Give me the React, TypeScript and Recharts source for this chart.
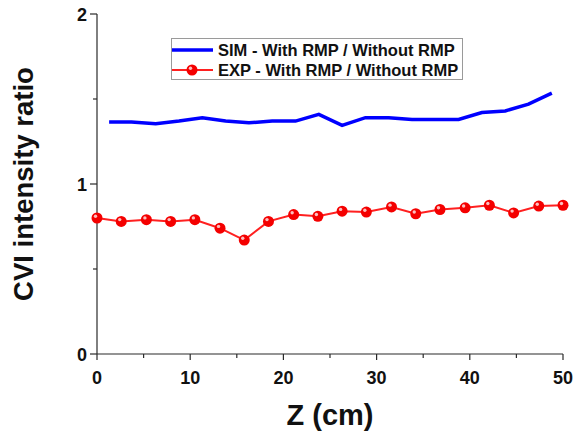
import { LineChart, Line, XAxis, YAxis, Legend } from 'recharts';

// SIM curve (blue)
const simZ = [1.3, 3.7, 6.3, 8.8, 11.3, 13.8, 16.3, 18.8, 21.3, 23.8, 26.3, 28.8, 31.3, 33.8, 36.3, 38.8, 41.3, 43.8, 46.3, 48.8];
const simRatio = [1.365, 1.365, 1.355, 1.37, 1.39, 1.37, 1.36, 1.37, 1.37, 1.41, 1.345, 1.39, 1.39, 1.38, 1.38, 1.38, 1.42, 1.43, 1.47, 1.535];

// EXP curve (red, with markers)
const expZ = [0, 2.6, 5.3, 7.9, 10.5, 13.2, 15.8, 18.4, 21.1, 23.7, 26.3, 28.9, 31.6, 34.2, 36.8, 39.5, 42.1, 44.7, 47.4, 50];
const expRatio = [0.8, 0.78, 0.79, 0.78, 0.79, 0.74, 0.67, 0.78, 0.82, 0.81, 0.84, 0.835, 0.865, 0.825, 0.85, 0.86, 0.875, 0.83, 0.87, 0.875];

const xTicks = [0, 5, 10, 15, 20, 25, 30, 35, 40, 45, 50];
const yTicks = [0, 0.5, 1, 1.5, 2];

const simLabel = 'SIM - With RMP / Without RMP';
const expLabel = 'EXP - With RMP / Without RMP';

const simData = simZ.map((z, i) => ({ z, ratio: simRatio[i] }));
const expData = expZ.map((z, i) => ({ z, ratio: expRatio[i] }));

const FONT = '"Liberation Sans", Arial, sans-serif';
const AXIS = '#2a2a2a';

const BottomTick = ({ x, y, payload }: any) => {
  const major = payload.value % 10 === 0;
  return (
    <g>
      <line x1={x} x2={x} y1={y} y2={y + (major ? 6 : 4)} stroke={AXIS} strokeWidth={1.2} />
      {major && (
        <text x={x} y={y + 30} textAnchor="middle" fontFamily={FONT} fontWeight="bold" fontSize={18} fill="#111">
          {payload.value}
        </text>
      )}
    </g>
  );
};

const TopTick = ({ x, y, payload }: any) => {
  const major = payload.value % 10 === 0;
  return <line x1={x} x2={x} y1={y} y2={y + (major ? 6 : 4)} stroke={AXIS} strokeWidth={1.2} />;
};

const LeftTick = ({ x, y, payload }: any) => {
  const major = Number.isInteger(payload.value);
  return (
    <g>
      <line x1={x - (major ? 7 : 4)} x2={x} y1={y} y2={y} stroke={AXIS} strokeWidth={1.2} />
      {major && (
        <text x={x - 10} y={y + 6.5} textAnchor="end" fontFamily={FONT} fontWeight="bold" fontSize={18} fill="#111">
          {payload.value}
        </text>
      )}
    </g>
  );
};

const RightTick = ({ x, y, payload }: any) => {
  const major = Number.isInteger(payload.value);
  return <line x1={x - (major ? 6 : 4)} x2={x} y1={y} y2={y} stroke={AXIS} strokeWidth={1.2} />;
};

const Ball = ({ cx, cy, index }: any) => (
  <g key={`ball-${index}`}>
    <circle cx={cx} cy={cy} r={5.5} fill="#f40000" />
    <circle cx={cx - 1.5} cy={cy - 1.8} r={1.7} fill="#fff" opacity={0.75} />
  </g>
);

const LegendBox = () => (
  <div
    style={{
      border: '1px solid #9a9a9a',
      width: 292,
      height: 42,
      boxSizing: 'border-box',
      fontFamily: FONT,
      fontWeight: 'bold',
      fontSize: 16.5,
      color: '#111',
      lineHeight: '20px',
      paddingTop: 1,
    }}
  >
    <div style={{ display: 'flex', alignItems: 'center', height: 20 }}>
      <svg width={46} height={20}>
        <line x1={0} x2={41} y1={10} y2={10} stroke="#0000ff" strokeWidth={3.5} />
      </svg>
      <span style={{ whiteSpace: 'nowrap' }}>{simLabel}</span>
    </div>
    <div style={{ display: 'flex', alignItems: 'center', height: 20 }}>
      <svg width={46} height={20}>
        <line x1={0} x2={41} y1={10} y2={10} stroke="#ff2020" strokeWidth={2} />
        <circle cx={20} cy={10} r={5.5} fill="#f40000" />
        <circle cx={18.5} cy={8.2} r={1.7} fill="#fff" opacity={0.75} />
      </svg>
      <span style={{ whiteSpace: 'nowrap' }}>{expLabel}</span>
    </div>
  </div>
);

export default function App() {
  return (
    <div style={{ position: 'absolute', left: 0, top: 0, width: 575, height: 432, background: '#fff' }}>
      <style>{'body{margin:0}'}</style>
      <LineChart width={575} height={432} margin={{ top: 14, right: 12, bottom: 0, left: 0 }}>
        <XAxis
          xAxisId="bottom"
          dataKey="z"
          type="number"
          domain={[0, 50]}
          ticks={xTicks}
          interval={0}
          height={78}
          tickSize={0}
          tickMargin={0}
          tick={<BottomTick />}
          axisLine={{ stroke: AXIS, strokeWidth: 1.2 }}
          label={({ viewBox }: any) => (
            <text
              x={viewBox.x + viewBox.width / 2}
              y={425}
              textAnchor="middle"
              fontFamily={FONT}
              fontWeight="bold"
              fontSize={29}
              fill="#111"
            >
              Z (cm)
            </text>
          )}
        />
        <XAxis
          xAxisId="top"
          orientation="top"
          dataKey="z"
          type="number"
          domain={[0, 50]}
          ticks={xTicks}
          interval={0}
          height={0}
          tickSize={0}
          tickMargin={0}
          tick={<TopTick />}
          axisLine={{ stroke: AXIS, strokeWidth: 1.2 }}
        />
        <YAxis
          yAxisId="left"
          type="number"
          domain={[0, 2]}
          ticks={yTicks}
          interval={0}
          width={97}
          tickSize={0}
          tickMargin={0}
          tick={<LeftTick />}
          axisLine={{ stroke: AXIS, strokeWidth: 1.2 }}
          label={({ viewBox }: any) => {
            const cx = 23;
            const cy = viewBox.y + viewBox.height / 2;
            return (
              <text
                x={cx}
                y={cy}
                transform={`rotate(-90 ${cx} ${cy})`}
                textAnchor="middle"
                dominantBaseline="central"
                fontFamily={FONT}
                fontWeight="bold"
                fontSize={27.5}
                fill="#111"
              >
                CVI intensity ratio
              </text>
            );
          }}
        />
        <YAxis
          yAxisId="right"
          orientation="right"
          type="number"
          domain={[0, 2]}
          ticks={yTicks}
          interval={0}
          width={0}
          tickSize={0}
          tickMargin={0}
          tick={<RightTick />}
          axisLine={{ stroke: AXIS, strokeWidth: 1.2 }}
        />
        <Legend
          layout="vertical"
          align="center"
          verticalAlign="middle"
          content={<LegendBox />}
          wrapperStyle={{ left: 171, top: 38, width: 292, height: 42 }}
        />
        <Line
          xAxisId="bottom"
          yAxisId="left"
          data={simData}
          dataKey="ratio"
          name={simLabel}
          type="linear"
          stroke="#0000ff"
          strokeWidth={3.5}
          dot={false}
          isAnimationActive={false}
        />
        <Line
          xAxisId="bottom"
          yAxisId="left"
          data={expData}
          dataKey="ratio"
          name={expLabel}
          type="linear"
          stroke="#ff2020"
          strokeWidth={2}
          dot={<Ball />}
          isAnimationActive={false}
        />
      </LineChart>
    </div>
  );
}
